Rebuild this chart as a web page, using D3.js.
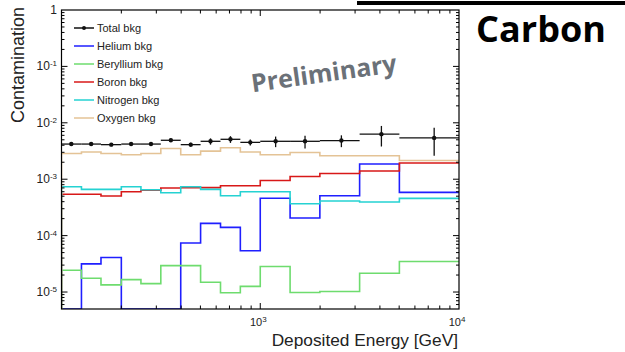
<!DOCTYPE html>
<html><head><meta charset="utf-8">
<script src="https://cdn.jsdelivr.net/npm/d3@7/dist/d3.min.js"></script>
<style>body{margin:0;background:#fff}svg{display:block}</style>
</head><body>
<svg id="c" width="625" height="352"></svg>
<script>
// ---- data ----
const binEdges = [100,126,158,200,251,316,398,501,631,794,1000,1413,1995,3162,5012,10000];
const totalEnergy = [112,141,178,224,282,355,447,562,708,891,1195,1680,2560,4070,7500];
const totalValues = [4.2e-3,4.2e-3,4.1e-3,4.2e-3,4.2e-3,4.9e-3,4.1e-3,4.7e-3,5.1e-3,4.5e-3,4.7e-3,4.7e-3,4.85e-3,6.3e-3,5.4e-3];
const totalErrors = [0.25e-3,0.25e-3,0.25e-3,0.25e-3,0.3e-3,0.35e-3,0.35e-3,0.6e-3,0.7e-3,0.55e-3,1.0e-3,1.2e-3,1.15e-3,2.5e-3,2.8e-3];
const heliumValues = [0,3.15e-5,4.1e-5,0,0,0,7.4e-5,1.65e-4,1.4e-4,5.4e-5,4.6e-4,2.05e-4,5.1e-4,1.86e-3,5.85e-4];
const berylliumValues = [2.43e-5,1.75e-5,1.34e-5,1.66e-5,1.41e-5,2.94e-5,2.94e-5,1.49e-5,9.7e-6,1.26e-5,2.83e-5,9.8e-6,1.02e-5,2.15e-5,3.47e-5];
const boronValues = [5.4e-4,5.4e-4,5.05e-4,6.0e-4,6.4e-4,7.0e-4,7.1e-4,7.1e-4,7.67e-4,7.67e-4,9.5e-4,1.12e-3,1.26e-3,1.4e-3,1.94e-3];
const nitrogenValues = [7.37e-4,6.6e-4,6.6e-4,7.37e-4,6.5e-4,5.77e-4,7.35e-4,6.6e-4,5.1e-4,6.0e-4,6.0e-4,3.68e-4,4.1e-4,3.95e-4,4.57e-4];
const oxygenValues = [2.86e-3,3.03e-3,2.86e-3,2.71e-3,2.86e-3,3.51e-3,2.71e-3,3.15e-3,3.61e-3,3.03e-3,2.71e-3,2.98e-3,2.6e-3,2.6e-3,2.15e-3];
const legendLabels = ["Total bkg","Helium bkg","Beryllium bkg","Boron bkg","Nitrogen bkg","Oxygen bkg"];
const xTickLabels = [{v:1000,e:"3"},{v:10000,e:"4"}];
const yTickLabels = [{v:1,e:null},{v:1e-1,e:"-1"},{v:1e-2,e:"-2"},{v:1e-3,e:"-3"},{v:1e-4,e:"-4"},{v:1e-5,e:"-5"}];

// ---- layout ----
const svg = d3.select("#c");
const L=61.5, R=459, T=10, B=309;
const x = d3.scaleLog().domain([100,10000]).range([L,R]);
const y = d3.scaleLog().domain([5e-6,1]).range([B,T]).clamp(true);
const yv = v => v>0 ? y(v) : B;
const font = "'Liberation Sans', Arial, Helvetica, sans-serif";

const series = [
  {vals:heliumValues, color:"#1f1fff"},
  {vals:berylliumValues, color:"#6edc6e"},
  {vals:boronValues, color:"#d81818"},
  {vals:nitrogenValues, color:"#25d2d2"},
  {vals:oxygenValues, color:"#e4c396"}
];

svg.append("clipPath").attr("id","pc").append("rect").attr("x",L).attr("y",T).attr("width",R-L).attr("height",B-T);
const g = svg.append("g").attr("clip-path","url(#pc)");

const line = d3.line();
series.forEach(s=>{
  const pts=[[x(binEdges[0]),B]];
  s.vals.forEach((v,i)=>{pts.push([x(binEdges[i]),yv(v)]);pts.push([x(binEdges[i+1]),yv(v)]);});
  g.append("path").attr("d",line(pts)).attr("fill","none").attr("stroke",s.color).attr("stroke-width",1.6);
});

// total bkg
const tg = svg.append("g");
totalValues.forEach((v,i)=>{
  tg.append("line").attr("x1",x(binEdges[i])).attr("x2",x(binEdges[i+1])).attr("y1",y(v)).attr("y2",y(v)).attr("stroke","#111").attr("stroke-width",1.3);
  tg.append("line").attr("x1",x(totalEnergy[i])).attr("x2",x(totalEnergy[i])).attr("y1",y(v-totalErrors[i])).attr("y2",y(v+totalErrors[i])).attr("stroke","#111").attr("stroke-width",1.3);
  tg.append("circle").attr("cx",x(totalEnergy[i])).attr("cy",y(v)).attr("r",2.2).attr("fill","#111");
});

// frame
svg.append("rect").attr("x",L).attr("y",T).attr("width",R-L).attr("height",B-T).attr("fill","none").attr("stroke","#000").attr("stroke-width",1.2);

// ticks
const ax = svg.append("g").attr("stroke","#000").attr("stroke-width",1);
for(let d=100; d<10000; d*=10){
  for(let k=1;k<10;k++){
    const v=d*k; if(v>=10000) continue;
    const len = k===1?6:3.5; const px=x(v);
    ax.append("line").attr("x1",px).attr("x2",px).attr("y1",B).attr("y2",B-len);
    ax.append("line").attr("x1",px).attr("x2",px).attr("y1",T).attr("y2",T+len);
  }
}
for(let d=1e-6; d<1; d*=10){
  for(let k=1;k<10;k++){
    const v=d*k; if(v<5e-6||v>1) continue;
    const major = Math.abs(Math.log10(v)-Math.round(Math.log10(v)))<1e-9;
    const len = major?6:3; const py=y(v);
    ax.append("line").attr("x1",L).attr("x2",L+len).attr("y1",py).attr("y2",py);
    ax.append("line").attr("x1",R).attr("x2",R-len).attr("y1",py).attr("y2",py);
  }
}

// tick labels
xTickLabels.forEach(t=>{
  const tx = svg.append("text").attr("x",x(t.v)-2).attr("y",326).attr("text-anchor","middle").attr("font-family",font).attr("font-size",11).attr("fill","#222");
  tx.append("tspan").text("10");
  tx.append("tspan").attr("dy",-4).attr("font-size",8).text(t.e);
});
yTickLabels.forEach(t=>{
  const tx = svg.append("text").attr("x",57).attr("y",y(t.v)+4).attr("text-anchor","end").attr("font-family",font).attr("font-size",12).attr("fill","#222");
  if(t.e===null){tx.text("1");}
  else{tx.append("tspan").text("10");tx.append("tspan").attr("dy",-4).attr("font-size",8).text(t.e);}
});

// axis titles
svg.append("text").attr("transform","translate(24,7) rotate(-90)").attr("text-anchor","end").attr("font-family",font).attr("font-size",18).attr("fill","#222").text("Contamination");
svg.append("text").attr("x",458).attr("y",346).attr("text-anchor","end").attr("font-family",font).attr("font-size",17.3).attr("fill","#222").text("Deposited Energy [GeV]");

// legend
const legColors = ["#111","#1f1fff","#6edc6e","#d81818","#25d2d2","#e4c396"];
const legY = [28,46,64,82,100,118];
legendLabels.forEach((lab,i)=>{
  svg.append("line").attr("x1",74).attr("x2",94).attr("y1",legY[i]).attr("y2",legY[i]).attr("stroke",legColors[i]).attr("stroke-width",1.5);
  if(i===0) svg.append("circle").attr("cx",84).attr("cy",legY[i]).attr("r",2).attr("fill","#111");
  svg.append("text").attr("x",97).attr("y",legY[i]+4).attr("font-family",font).attr("font-size",11).attr("fill","#222").text(lab);
});

// Preliminary
svg.append("text").attr("transform","translate(325,82) rotate(-8)").attr("text-anchor","middle").attr("font-family","'Open Sans', 'DejaVu Sans', sans-serif").attr("font-weight","bold").attr("font-size",25).attr("fill","#6b7178").text("Preliminary");

// Carbon heading
svg.append("rect").attr("x",357).attr("y",1).attr("width",268).attr("height",4).attr("fill","#000");
svg.append("text").attr("x",541).attr("y",42).attr("text-anchor","middle").attr("font-family","'Open Sans', 'DejaVu Sans', sans-serif").attr("font-weight","bold").attr("font-size",36).attr("fill","#000").text("Carbon");
</script>
</body></html>
